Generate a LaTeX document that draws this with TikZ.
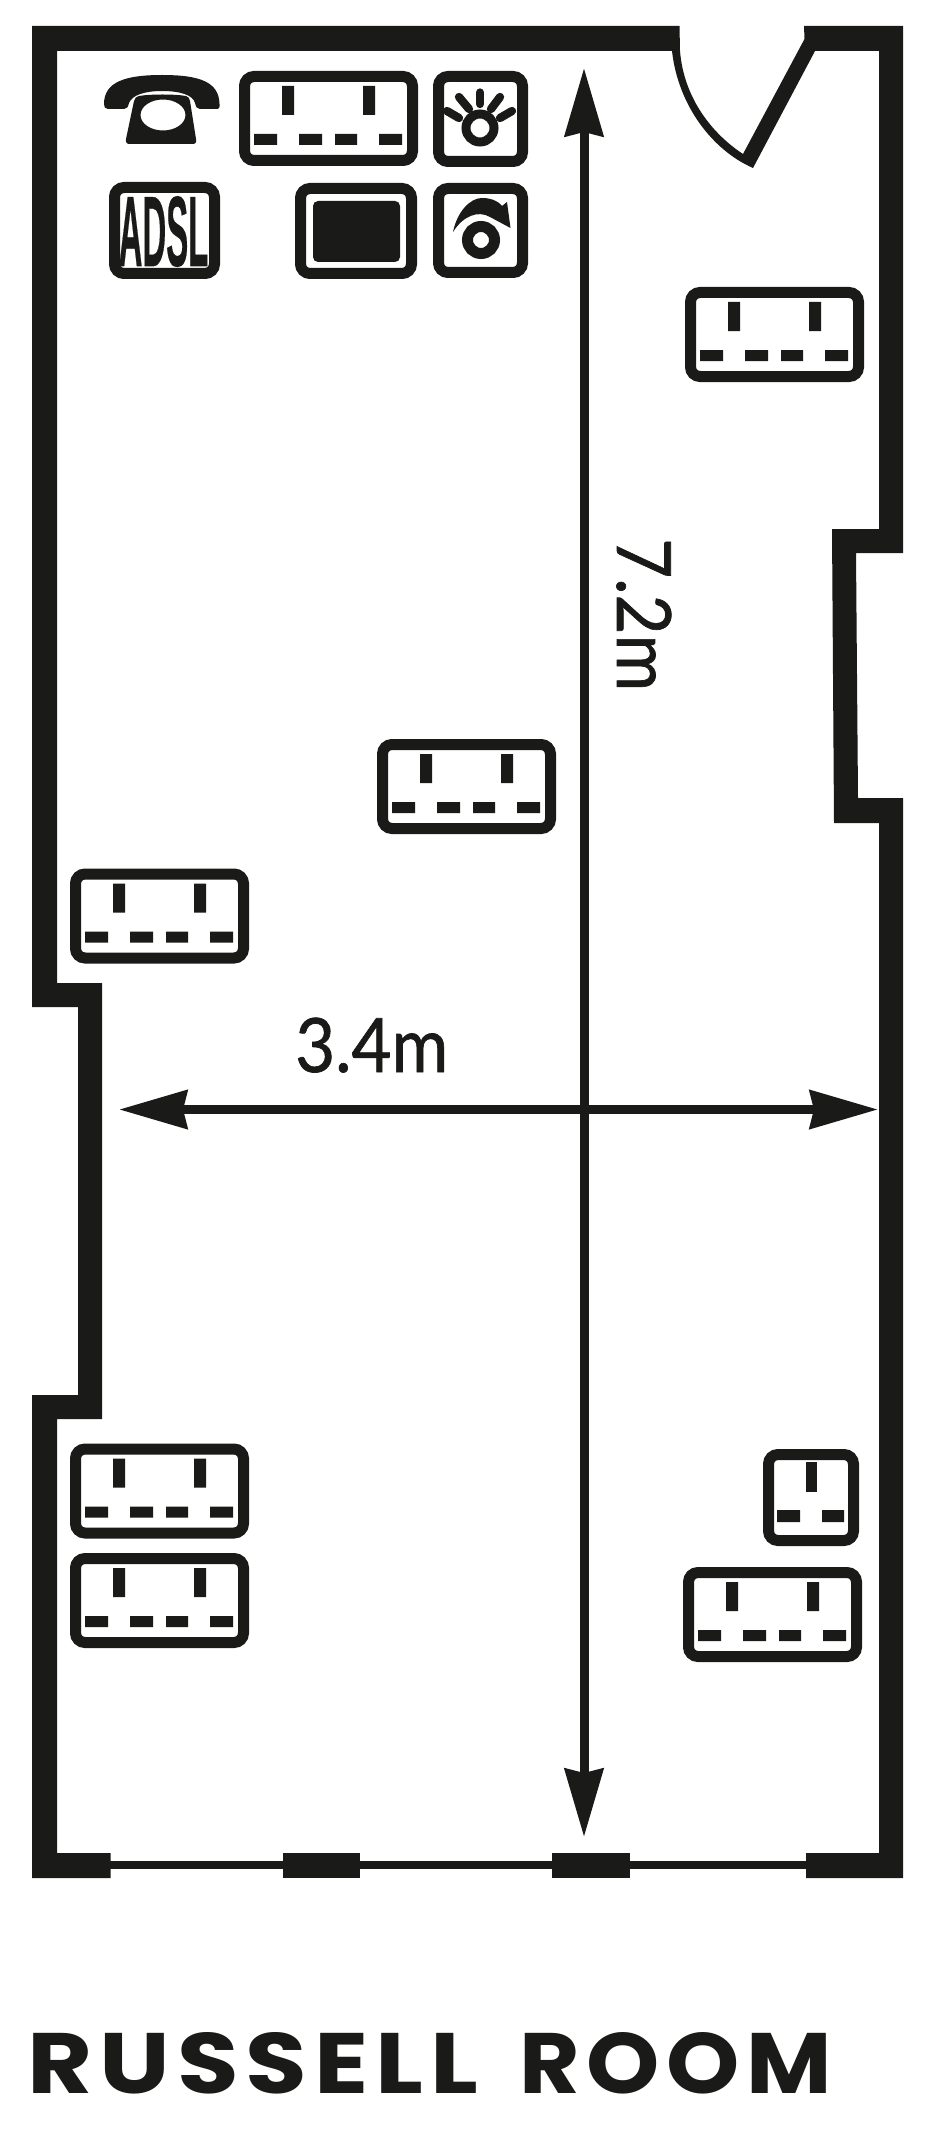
\documentclass[tikz,border=0pt]{standalone}
\usepackage{fontspec}
\setmainfont{Lato}
\newfontfamily\dimfont[FakeStretch=0.92,FakeBold=0.9]{Lato}
\newfontfamily\titlefont[LetterSpace=7]{Poppins}
\newfontfamily\adslfont[BoldFeatures={FakeBold=0.5}]{Liberation Sans}
\usetikzlibrary{arrows.meta}
\definecolor{ink}{HTML}{1A1A18}
\tikzset{
  frame/.style={draw=ink,line width=11pt,rounded corners=9.5pt},
  pin/.style={fill=ink},
  ray/.style={draw=ink,line width=8.3pt,line cap=round},
  ring/.style={draw=ink,line width=9pt},
  dim/.style={draw=ink,line width=9pt,{Stealth[length=68pt,width=38pt,inset=4pt]}-{Stealth[length=68pt,width=38pt,inset=4pt]}},
  dimtext/.style={inner sep=0pt,text=ink,font=\dimfont\fontsize{75}{75}\selectfont},
  double socket/.pic={
    \draw[frame] (5.5,5.5) rectangle (173.5,89.5);
    \fill[pin] (43,15) rectangle (55,44) (124,15) rectangle (136,44);
    \fill[pin] (15,63) rectangle (38,74) (60,63) rectangle (83,74)
               (96,63) rectangle (118,74) (140,63) rectangle (163,74);
  },
  single socket/.pic={
    \draw[frame] (5.5,5.5) rectangle (90.5,91.5);
    \fill[pin] (43,13) rectangle (54,43);
    \fill[pin] (14,61) rectangle (37,73) (59,61) rectangle (81,73);
  }
}
\begin{document}
\begin{tikzpicture}[x=1pt,y=-1pt]
\useasboundingbox[fill=white] (0,0) rectangle (930,2140);
% walls
\fill[ink] (110.7,1878) -- (32,1878) -- (32,1395) -- (78,1395) -- (78,1007) -- (32,1007) -- (32,26)
  -- (679.5,26) -- (680,51) .. controls (684,100) and (714,135) .. (743,154)
  -- (804.5,39) -- (804,26) -- (903,26) -- (903,553) -- (856,553) -- (858,798) -- (903,798) -- (903,1878)
  -- (806,1878) -- (806,1853) -- (879,1853) -- (879,823) -- (834,823) -- (832,529) -- (879,529) -- (879,51)
  -- (815,51) -- (753,168) .. controls (712,150) and (678,105) .. (672,51)
  -- (57,51) -- (57,983) -- (102,983) -- (102,1419) -- (57,1419) -- (57,1853) -- (110.7,1853) -- cycle;
% window
\fill[ink] (283,1853) rectangle (360,1878);
\fill[ink] (552,1853) rectangle (630,1878);
\coordinate (w1) at (110,1865);
\coordinate (w2) at (806,1865);
\draw[draw=ink,line width=7.5pt] (w1) -- (w2);
% dimensions
\coordinate (hL) at (119,1109.5);
\coordinate (hR) at (878,1109.5);
\coordinate (vT) at (584,68);
\coordinate (vB) at (584,1837);
\draw[dim] (vT) -- (vB);
\draw[dim] (hL) -- (hR);
\node[dimtext,anchor=base west] (wlabel) at (295,1072) {3.4m};
\node[dimtext,anchor=base west,rotate=-90] (hlabel) at (617,538) {7.2m};
% sockets
\pic at (239,71) {double socket};
\pic at (685,287) {double socket};
\pic at (377,739) {double socket};
\pic at (70,868.5) {double socket};
\pic at (70,1443.5) {double socket};
\pic at (70,1553) {double socket};
\pic at (683,1567) {double socket};
\pic at (763,1449) {single socket};
% telephone
\fill[ink] (104,104) .. controls (104,82) and (125,75) .. (162,75)
  .. controls (200,75) and (219,82) .. (219.5,104)
  .. controls (220,108) and (219,109) .. (216,109) -- (200,109)
  .. controls (197,109) and (196,107) .. (195,103)
  .. controls (193,95) and (180,91) .. (162,91)
  .. controls (145,91) and (132,95) .. (129,103)
  .. controls (128,107) and (127,109) .. (124,109) -- (108,109)
  .. controls (105,109) and (104,107) .. (104,104) -- cycle;
\fill[ink,even odd rule] (139,96) .. controls (150,94) and (175,94) .. (186,96)
  .. controls (189,97) and (189,98) .. (190,101) -- (196,139)
  .. controls (197,143) and (195,144) .. (192,144) -- (130,144)
  .. controls (127,144) and (125.5,143) .. (126,139) -- (134,101)
  .. controls (135,98) and (136,96.5) .. (139,96) -- cycle
  (163,115) ellipse [x radius=22.5pt,y radius=15.5pt];
% ADSL
\draw[frame] (114.5,187.5) rectangle (214.5,273.5);
\node[inner sep=0pt,anchor=base,text=ink,font=\adslfont\bfseries\fontsize{100}{100}\selectfont,xscale=.33,transform shape] (adsl) at (163.5,266) {ADSL};
% monitor
\draw[frame] (300.5,188.5) rectangle (411.5,273.5);
\fill[ink,rounded corners=5pt] (313,201) rectangle (400,262);
% lights
\draw[frame] (438.5,76.5) rectangle (522.5,161.5);
\draw[ring] (480,128) circle [radius=14pt];
\coordinate (r1a) at (480,92.5); \coordinate (r1b) at (480,104);
\coordinate (r2a) at (459,97); \coordinate (r2b) at (469,109);
\coordinate (r3a) at (500,97); \coordinate (r3b) at (491,109);
\coordinate (r4a) at (447,111); \coordinate (r4b) at (459,118);
\coordinate (r5a) at (512,111); \coordinate (r5b) at (500,118);
\draw[ray] (r1a) -- (r1b);
\draw[ray] (r2a) -- (r2b);
\draw[ray] (r3a) -- (r3b);
\draw[ray] (r4a) -- (r4b);
\draw[ray] (r5a) -- (r5b);
% dimmer
\draw[frame] (438.5,188.5) rectangle (522.5,272.5);
\draw[ring,line width=11pt] (481,240) circle [radius=13.5pt];
\fill[ink] (453,232) .. controls (457,212) and (470,198) .. (482,198)
  .. controls (490,198) and (497,200) .. (502,206) -- (507,202) -- (510.5,228) -- (490,217)
  .. controls (478,210) and (463,216) .. (453,232) -- cycle;
% title
\node[inner sep=0pt,anchor=base west,text=ink] (title) at (27,2093)
  {\titlefont\bfseries\resizebox{451pt}{61pt}{RUSSELL}\hspace{41pt}\resizebox{312pt}{61pt}{ROOM}};
\end{tikzpicture}
\end{document}
